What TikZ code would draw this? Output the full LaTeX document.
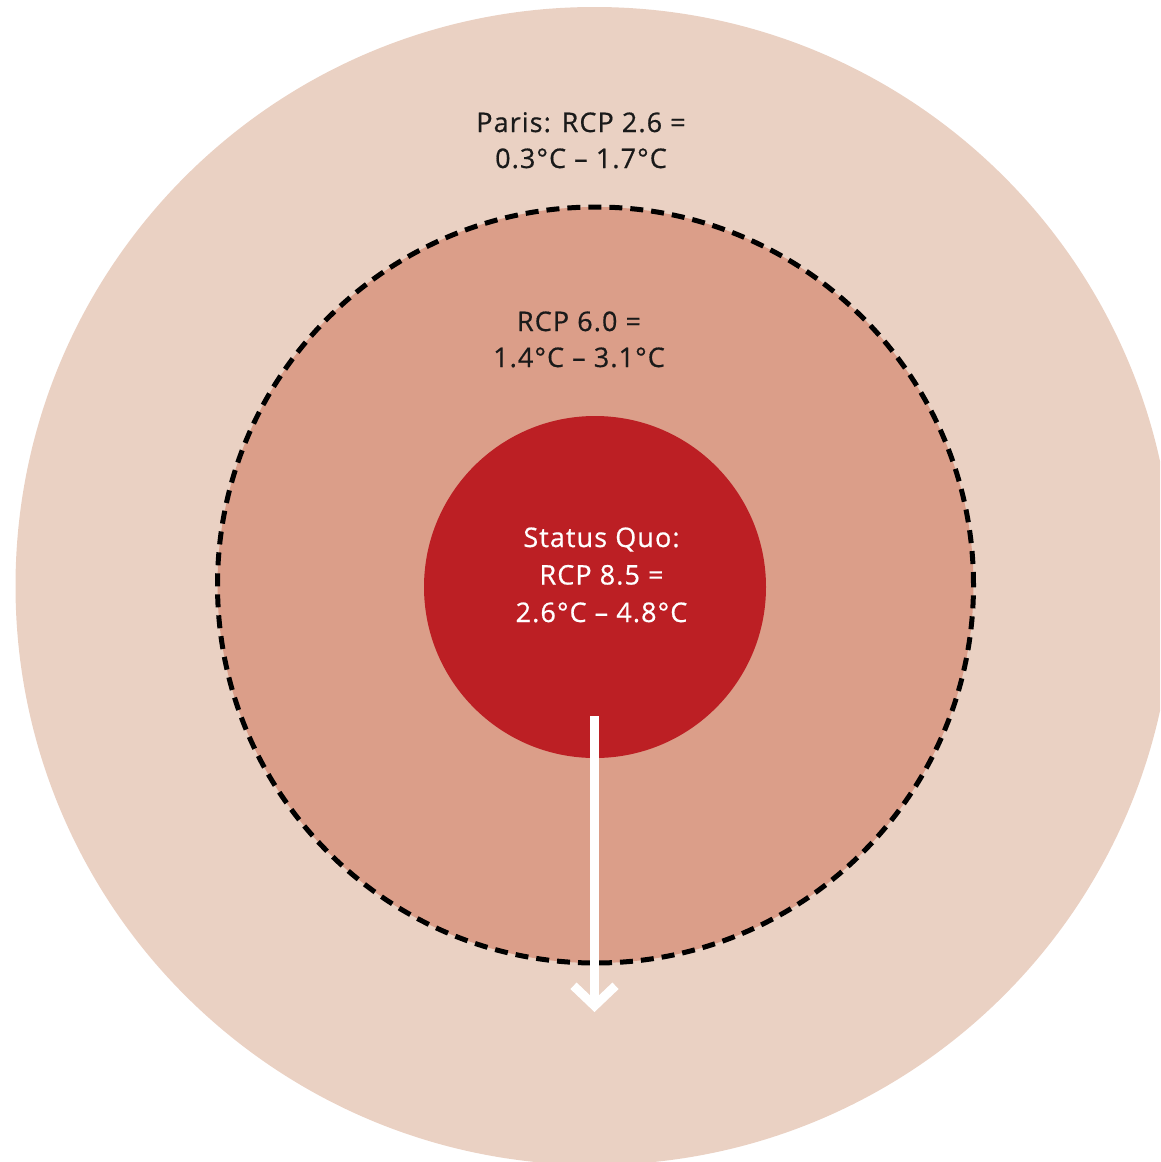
\documentclass[tikz,border=0pt]{standalone}
\usepackage{fontspec}
\setmainfont[LetterSpace=4, FakeBold=0.6]{Open Sans}
\usetikzlibrary{arrows.meta}
\definecolor{outerc}{RGB}{234,209,195}
\definecolor{midc}{RGB}{219,158,137}
\definecolor{redc}{RGB}{188,31,36}
\definecolor{textc}{RGB}{26,26,26}
\begin{document}
\begin{tikzpicture}[x=1pt,y=-1pt,
  ring/.style={circle, inner sep=0pt, outer sep=0pt},
  lbl/.style={align=center, inner sep=0pt, anchor=base, font=\fontsize{27}{36}\selectfont, text=textc},
  whitelbl/.style={lbl, text=white, font=\fontsize{27}{37.5}\selectfont},
  downarrow/.style={draw=white, line width=9pt, -{Straight Barb[length=20pt, width=42pt]}}]
\useasboundingbox (0,0) rectangle (1160,1162);
\clip (0,0) rectangle (1160,1162);
\node[ring, fill=outerc, minimum size=1158pt] (outer) at (594.5,586) {};
\node[ring, fill=midc, draw=black, line width=5pt, dash pattern=on 13pt off 8pt, minimum size=756pt] (middle) at (595.5,585) {};
\node[ring, fill=redc, minimum size=342pt] (core) at (595,587) {};
\node[lbl] (paris) at (581,168) {Paris: RCP 2.6 =\\0.3°C – 1.7°C};
\node[lbl] (rcp6) at (579,367) {RCP 6.0 =\\1.4°C – 3.1°C};
\node[whitelbl] (status) at (601.5,622) {Status Quo:\\RCP 8.5 =\\2.6°C – 4.8°C};
\coordinate (ashaft) at (594.5,716);
\coordinate (atip) at (594.5,1012);
\draw[downarrow] (ashaft) -- (atip);
\end{tikzpicture}
\end{document}
